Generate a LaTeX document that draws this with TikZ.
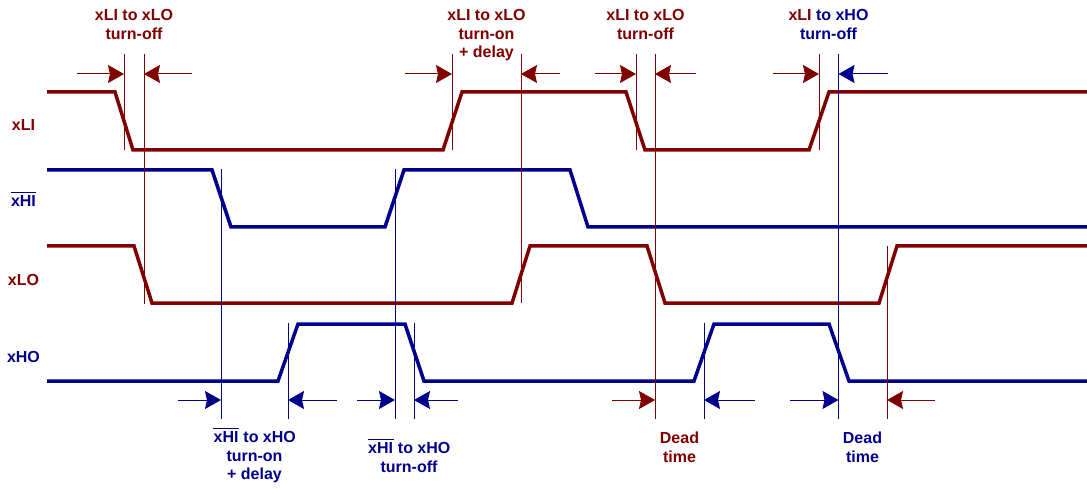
\documentclass[tikz,border=0pt]{standalone}
\usepackage{fontspec}
\setmainfont{Liberation Sans}
\usetikzlibrary{arrows.meta}
\definecolor{sigred}{RGB}{128,0,0}
\definecolor{sigblue}{RGB}{0,0,140}
\newcommand{\barsig}[1]{\vbox{\hrule height 1.2pt\kern 2.5pt\hbox{\kern0.5pt#1\kern0.5pt}}}

\begin{document}
\begin{tikzpicture}[x=1pt,y=-1pt,
  wave/.style={line width=3.5pt, line join=miter},
  guide/.style={line width=1pt},
  dim/.style={line width=1pt, -{Stealth[length=16pt,width=18pt,inset=2pt]}},
  lbl/.style={font=\fontsize{16}{18.5}\selectfont\bfseries, align=center, inner sep=0pt}]
\useasboundingbox (0,0) rectangle (1087,489);
% signal names
\node[lbl, sigred, anchor=base] (nLI) at (23.5,131) {xLI};
\node[lbl, sigblue, anchor=base] (nHI) at (23.5,207) {\barsig{xHI}};
\node[lbl, sigred, anchor=base] (nLO) at (23.5,285) {xLO};
\node[lbl, sigblue, anchor=base] (nHO) at (23.5,362) {xHO};
% waveforms
\draw[wave, sigred] (47,92) -- (115,92) -- (133,150) -- (443,150) -- (462,92) -- (626,92) -- (645,150) -- (809,150) -- (829,92) -- (1087,92);
\draw[wave, sigblue] (47,170) -- (212,170) -- (231,227) -- (385,227) -- (404,170) -- (570,170) -- (588,227) -- (1087,227);
\draw[wave, sigred] (47,246) -- (134,246) -- (152,303) -- (512,303) -- (530,246) -- (647,246) -- (665,303) -- (879,303) -- (897,246) -- (1087,246);
\draw[wave, sigblue] (47,381) -- (278,381) -- (298,324) -- (405,324) -- (424,381) -- (694,381) -- (714,324) -- (829,324) -- (849,381) -- (1087,381);
% guide lines
\foreach \x/\a/\b in {124/54/150, 144/54/304, 452/54/150, 521/54/303, 636/54/150, 655/54/419, 819/54/150, 887/246/419} {
  \draw[guide, sigred] (\x,\a) -- (\x,\b);
}
\foreach \x/\a/\b in {838.5/54/419, 221/169/419, 288/323/419, 395/169/419, 414/323/419, 704/323/419} {
  \draw[guide, sigblue] (\x,\a) -- (\x,\b);
}
% timing arrows
\foreach \a/\b in {77/124, 192/144, 405/452, 560/521, 595/636, 696/655, 773/819} {
  \draw[dim, sigred] (\a,74) -- (\b,74);
}
\draw[dim, sigblue] (888,74) -- (838.5,74);
\foreach \a/\b in {178/221, 337/288, 357/395, 458/414, 755/704, 790/838.5} {
  \draw[dim, sigblue] (\a,400) -- (\b,400);
}
\draw[dim, sigred] (612,400) -- (655,400);
\draw[dim, sigred] (935,400) -- (887,400);
% top labels
\node[lbl, sigred, anchor=north] (offA) at (134,9.5) {xLI to xLO\\turn-off};
\node[lbl, sigred, anchor=north] (onB) at (486.5,9.5) {xLI to xLO\\turn-on\\+ delay};
\node[lbl, sigred, anchor=north] (offC) at (645.5,9.5) {xLI to xLO\\turn-off};
\node[lbl, sigblue, anchor=north] (offD) at (828.5,9.5) {\textcolor{sigred}{xLI} to xHO\\turn-off};
% bottom labels
\node[lbl, sigblue, anchor=north] (onE) at (254.5,428) {\barsig{xHI} to xHO\\turn-on\\+ delay};
\node[lbl, sigblue, anchor=north] (offF) at (409,439) {\barsig{xHI} to xHO\\turn-off};
\node[lbl, sigred, anchor=north] (deadA) at (679.5,432) {Dead\\time};
\node[lbl, sigblue, anchor=north] (deadB) at (862.5,432) {Dead\\time};
\end{tikzpicture}
\end{document}
